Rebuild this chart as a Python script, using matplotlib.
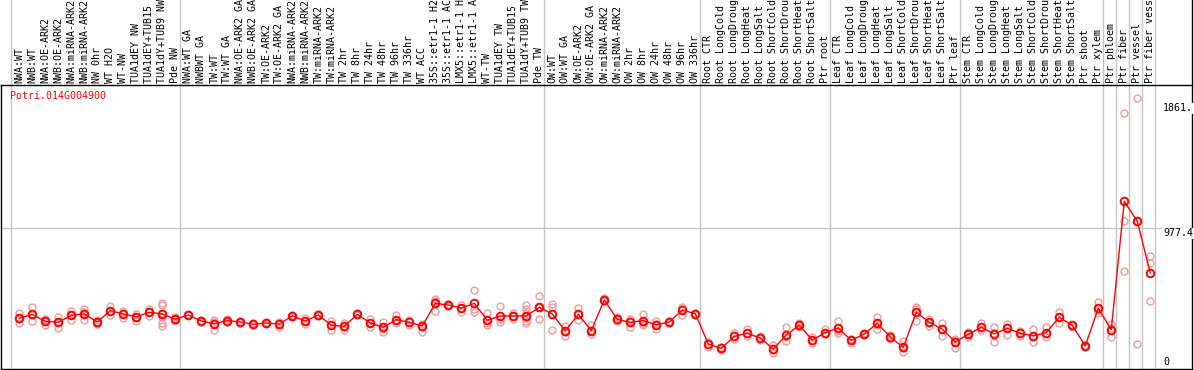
import matplotlib
matplotlib.use('Agg')
import matplotlib.pyplot as plt
import matplotlib.transforms as mtransforms

gene = 'Potri.014G004900'

labels = [
    'NWA:WT', 'NWB:WT', 'NWA:OE-ARK2', 'NWB:OE-ARK2', 'NWA:miRNA-ARK2',
    'NWB:miRNA-ARK2', 'NW 0hr', 'WT H2O', 'WT-NW', 'TUA1dEY NW',
    'TUA1dEY+TUB15 NW', 'TUA1dY+TUB9 NW', 'Pde NW',
    'NWA:WT GA', 'NWBWT GA', 'TW:WT', 'TW:WT GA', 'NWA:OE-ARK2 GA',
    'NWB:OE-ARK2 GA', 'TW:OE-ARK2', 'TW:OE-ARK2 GA', 'NWA:miRNA-ARK2',
    'NWB:miRNA-ARK2', 'TW:miRNA-ARK2', 'TW:miRNA-ARK2', 'TW 2hr', 'TW 8hr',
    'TW 24hr', 'TW 48hr', 'TW 96hr', 'TW 336hr', 'WT ACC', '35S::etr1-1 H2O',
    '35S::etr1-1 ACC', 'LMX5::etr1-1 H2O', 'LMX5::etr1-1 ACC', 'WT-TW',
    'TUA1dEY TW', 'TUA1dEY+TUB15 TW', 'TUA1dY+TUB9 TW', 'Pde TW',
    'OW:WT', 'OW:WT GA', 'OW:OE-ARK2', 'OW:OE-ARK2 GA', 'OW:miRNA-ARK2',
    'OW:miRNA-ARK2', 'OW 2hr', 'OW 8hr', 'OW 24hr', 'OW 48hr', 'OW 96hr',
    'OW 336hr',
    'Root CTR', 'Root LongCold', 'Root LongDrought', 'Root LongHeat',
    'Root LongSalt', 'Root ShortCold', 'Root ShortDrought', 'Root ShortHeat',
    'Root ShortSalt', 'Ptr root',
    'Leaf CTR', 'Leaf LongCold', 'Leaf LongDrought', 'Leaf LongHeat',
    'Leaf LongSalt', 'Leaf ShortCold', 'Leaf ShortDrought', 'Leaf ShortHeat',
    'Leaf ShortSalt', 'Ptr leaf',
    'Stem CTR', 'Stem LongCold', 'Stem LongDrought', 'Stem LongHeat',
    'Stem LongSalt', 'Stem ShortCold', 'Stem ShortDrought', 'Stem ShortHeat',
    'Stem ShortSalt', 'Ptr shoot', 'Ptr xylem',
    'Ptr phloem', 'Ptr fiber', 'Ptr vessel', 'Ptr fiber vessel',
]

# first column of each block (vertical separators)
group_starts = [0, 13, 41, 53, 63, 73, 84, 85, 86, 87, 88]

means = [
    341, 369, 320, 313, 362, 372, 315, 395, 372, 351, 384, 372, 334,
    365, 322, 303, 325, 315, 299, 308, 301, 358, 322, 365, 292, 285, 369,
    308, 277, 332, 313, 287, 447, 435, 414, 447, 327, 358, 358, 358, 419,
    372, 252, 369, 254, 471, 334, 313, 325, 296, 315, 400, 374,
    160, 129, 214, 235, 202, 124, 223, 292, 188, 240,
    273, 186, 230, 306, 209, 136, 384, 313, 264, 174,
    228, 278, 231, 271, 235, 217, 240, 349, 292, 146, 412,
    261, 1168, 1027, 662,
]

reps = [
    [376, 336, 310], [424, 362, 325], [336, 329, 292], [348, 313, 270],
    [395, 362, 329], [405, 388, 329], [329, 315, 299], [428, 395, 362],
    [395, 376, 343], [374, 353, 325], [409, 384, 358],
    [447, 433, 376, 348, 310, 287], [348, 334, 320],
    [372, 362], [327, 318], [332, 313, 259], [334, 315], [320, 310],
    [306, 292], [315, 303], [318, 301, 277], [367, 353], [346, 322, 301],
    [372, 358], [325, 292, 259], [310, 282, 259], [381, 362],
    [339, 306, 282], [315, 268, 247], [362, 329, 306], [327, 296],
    [301, 282, 247], [480, 466, 395], [442, 428], [433, 414, 386],
    [541, 405, 386], [376, 310, 292], [428, 334, 315], [381, 358, 334],
    [433, 405, 376, 343, 325, 310], [499, 419, 334],
    [442, 424, 259], [287, 247, 216], [414, 372, 329], [292, 259, 228],
    [482, 466], [348, 320], [334, 320, 277], [372, 310, 296],
    [320, 301, 263], [320, 310], [419, 405, 367], [381, 362],
    [174, 141], [141, 117], [235, 197], [263, 216], [216, 188], [150, 94],
    [277, 207, 183], [306, 282], [207, 169], [263, 230],
    [325, 254, 240], [197, 169], [240, 221], [348, 296, 268], [221, 197],
    [179, 129, 104], [424, 405, 325], [334, 311, 287], [306, 264, 217],
    [198, 188, 132],
    [245, 231, 207], [311, 259], [283, 235, 174], [301, 283, 221],
    [254, 217], [264, 212, 174], [283, 212], [386, 353, 311], [297, 283],
    [155, 136], [457, 400, 381],
    [301, 273, 212], [1790, 1027, 674], [1896, 1027, 158], [782, 730, 464],
]

ytick_vals = [0, 977.4, 1861]
ytick_text = ['0', '977.4', '1861.']

plt.rcParams['font.family'] = 'DejaVu Sans Mono'
plt.rcParams['font.size'] = 7.2

fig = plt.figure(figsize=(11.94, 3.70), dpi=100)
ax = fig.add_axes([1 / 1194, 1 / 370, 1191 / 1194, 284 / 370])

xs = list(range(len(labels)))
for i, rr in enumerate(reps):
    ax.plot([i] * len(rr), rr, 'o', mfc='none', mec='#f29a9a', ms=5, mew=1.0,
            zorder=2)
ax.plot(xs, means, '-', color='red', lw=1, zorder=3)
ax.plot(xs, means, 'o', mfc='none', mec='red', ms=5.5, mew=1.4, zorder=4)

for b in group_starts:
    ax.axvline(b - 0.638, ymin=0, ymax=1.31, color='#c4c4c4', lw=1,
               clip_on=False, zorder=1)
ax.axhline(ytick_vals[1], color='#c4c4c4', lw=1, zorder=1)
ax.plot([1, 1], [1, 1.31], transform=ax.transAxes, color='black', lw=1,
        clip_on=False)

ax.set_xlim(-1.408, 90.21)
ax.set_ylim(-17, 1990)
ax.set_xticks(xs)
ax.set_xticklabels(labels, rotation=90)
ax.xaxis.tick_top()
ax.tick_params(axis='x', length=0, pad=1.5)
ax.set_yticks([])
for sp in ax.spines.values():
    sp.set_color('black')
    sp.set_linewidth(1)

ax.text(0.0076, 0.961, gene, color='red', transform=ax.transAxes,
        ha='left', va='center')

trans = mtransforms.blended_transform_factory(ax.transAxes, ax.transData)
for v, s in zip(ytick_vals, ytick_text):
    ax.text(1 - 29 / 1191, v, s, transform=trans, ha='left',
            va='bottom' if v == 0 else 'top',
            bbox=dict(fc='white', ec='none', pad=0.5), zorder=5)

fig.savefig('out.png', dpi=100)
